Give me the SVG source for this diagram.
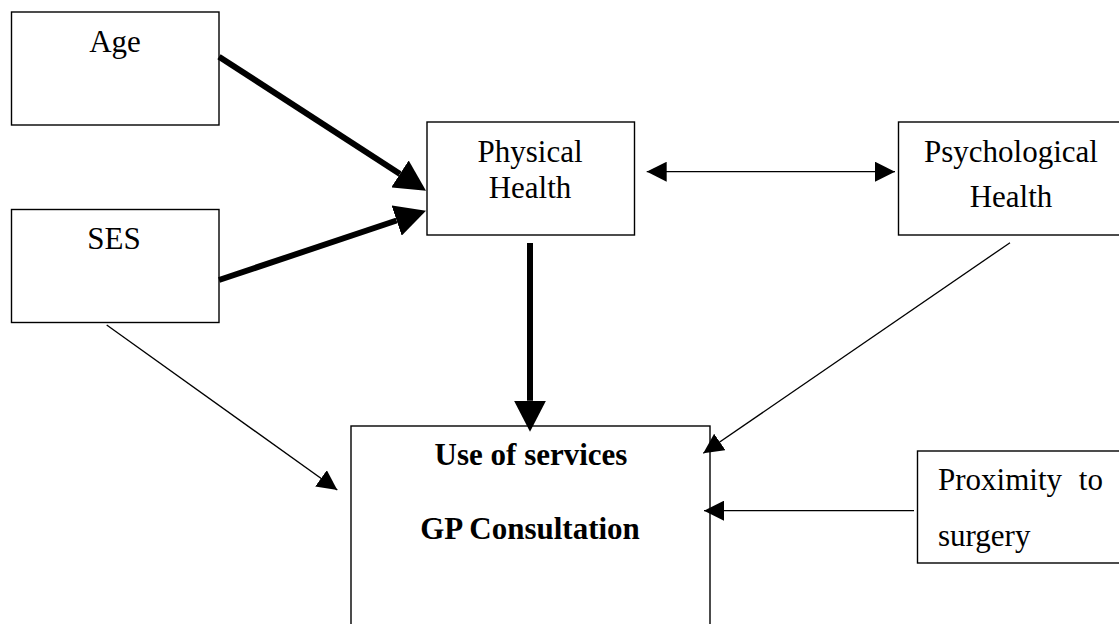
<svg xmlns="http://www.w3.org/2000/svg" width="1119" height="624" viewBox="0 0 1119 624">
<style>
  .box { fill: #fff; stroke: #000; stroke-width: 1.4; }
  .t { font-family: "Liberation Serif", "Times New Roman", serif; font-size: 31px; fill: #000; }
  .c { text-anchor: middle; }
  .b { font-weight: bold; }
  .thick { stroke: #000; stroke-width: 6; fill: none; marker-end: url(#big); }
  .thin { stroke: #000; stroke-width: 1.3; fill: none; marker-end: url(#small); }
</style>
<defs>
  <marker id="big" markerUnits="userSpaceOnUse" markerWidth="31" markerHeight="32" viewBox="0 0 31 32" refX="0" refY="16" orient="auto">
    <path d="M0,0 L31,16 L0,32 z" fill="#000"/>
  </marker>
  <marker id="small" markerUnits="userSpaceOnUse" markerWidth="20" markerHeight="20" viewBox="0 0 20 20" refX="20" refY="10" orient="auto-start-reverse">
    <path d="M0,0 L20,10 L0,20 z" fill="#000"/>
  </marker>
</defs>
<rect width="1119" height="624" fill="#fff"/>

<g id="age">
  <rect class="box" x="11.5" y="12" width="207.5" height="113"/>
  <text class="t c" x="115" y="52">Age</text>
</g>
<g id="ses">
  <rect class="box" x="11.5" y="209.5" width="207.5" height="113"/>
  <text class="t c" x="114" y="249">SES</text>
</g>
<g id="physical">
  <rect class="box" x="427" y="122" width="207.5" height="113"/>
  <text class="t c" x="530" y="162">Physical</text>
  <text class="t c" x="530" y="198">Health</text>
</g>
<g id="psychological">
  <rect class="box" x="898.5" y="122" width="230" height="113"/>
  <text class="t c" x="1011" y="162">Psychological</text>
  <text class="t c" x="1011" y="207">Health</text>
</g>
<g id="use">
  <rect class="box" x="351" y="426" width="359" height="220"/>
  <text class="t c b" x="531" y="465">Use of services</text>
  <text class="t c b" x="530" y="539">GP Consultation</text>
</g>
<g id="proximity">
  <rect class="box" x="917.5" y="451" width="220" height="112"/>
  <text class="t" x="938" y="490" word-spacing="9">Proximity to</text>
  <text class="t" x="938" y="546">surgery</text>
</g>

<g id="connectors">
  <line class="thick" x1="219" y1="56.7" x2="400" y2="173.9"/>
  <line class="thick" x1="219" y1="280" x2="396.6" y2="220.5"/>
  <line class="thick" x1="530" y1="243" x2="530" y2="400.7"/>
  <line class="thin" x1="646.7" y1="171.7" x2="895" y2="171.7" marker-start="url(#small)"/>
  <line class="thin" x1="1010" y1="242.7" x2="703.3" y2="453.3"/>
  <line class="thin" x1="914" y1="510.7" x2="704" y2="510.7"/>
  <line class="thin" x1="106.7" y1="325" x2="337.3" y2="490"/>
</g>
</svg>
